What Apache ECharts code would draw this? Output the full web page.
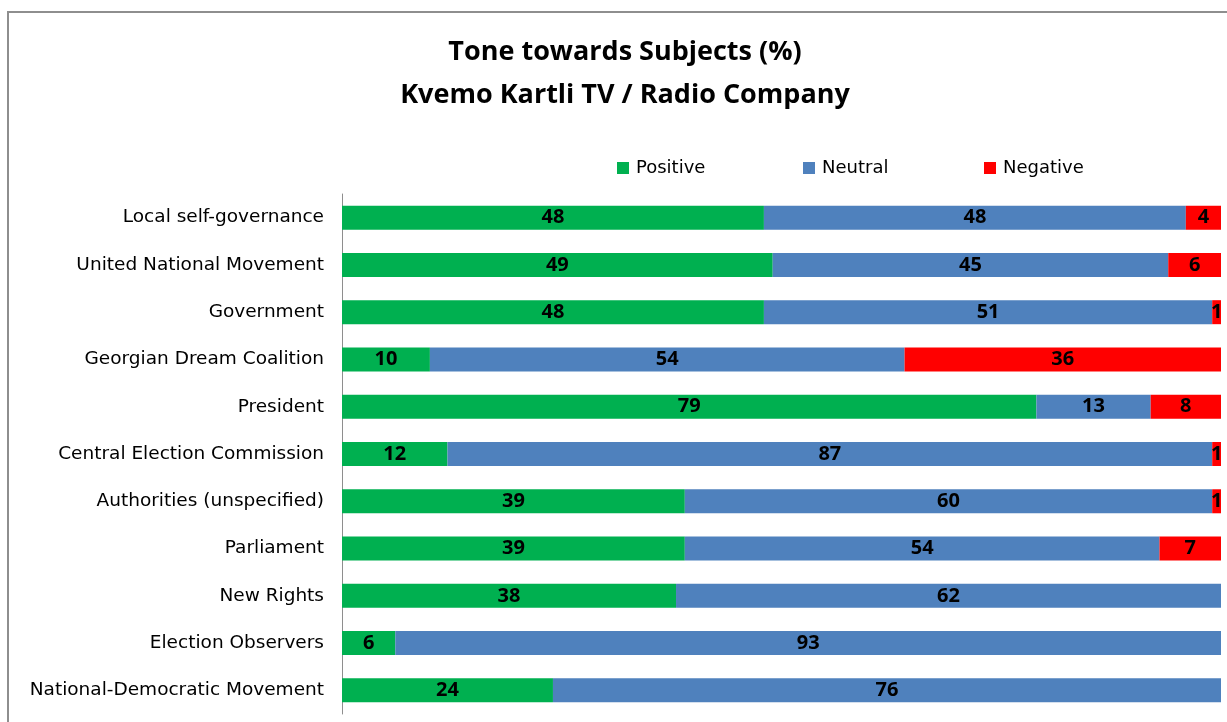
<!DOCTYPE html>
<html lang="en">
<head>
    <meta charset="UTF-8">
    <title>Tone towards Subjects</title>
    <script src="https://cdn.jsdelivr.net/npm/echarts@6/dist/echarts.min.js"></script>
    <style>
        html, body {
            margin: 0;
            padding: 0;
            background: #fff;
            overflow: hidden;
        }
        #frame {
            position: absolute;
            left: 7px;
            top: 11px;
            width: 1400px;
            height: 900px;
            border: 2px solid #8e8e8e;
        }
        #main {
            position: absolute;
            left: 0;
            top: 0;
            width: 1227px;
            height: 722px;
        }
    </style>
</head>
<body>
    <div id="frame"></div>
    <div id="main"></div>
    <script>
        var categories = [
            'Local self-governance',
            'United National Movement',
            'Government',
            'Georgian Dream Coalition',
            'President',
            'Central Election Commission',
            'Authorities (unspecified)',
            'Parliament',
            'New Rights',
            'Election Observers',
            'National-Democratic Movement'
        ];
        var positive = [48, 49, 48, 10, 79, 12, 39, 39, 38, 6, 24];
        var neutral = [48, 45, 51, 54, 13, 87, 60, 54, 62, 93, 76];
        var negative = [4, 6, 1, 36, 8, 1, 1, 7, 0, 0, 0];

        var seriesNames = ['Positive', 'Neutral', 'Negative'];
        var colors = ['#00B050', '#4F81BD', '#FF0000'];
        var raw = [positive, neutral, negative];

        // 100% stacked, like the original spreadsheet chart
        var totals = categories.map(function (c, i) {
            return positive[i] + neutral[i] + negative[i];
        });

        var font = 'Open Sans';
        var textFont = 'DejaVu Sans';

        var series = seriesNames.map(function (name, k) {
            return {
                name: name,
                type: 'bar',
                stack: 'tone',
                barWidth: 24,
                itemStyle: { color: colors[k] },
                label: {
                    show: true,
                    position: 'inside',
                    color: '#000',
                    fontFamily: font,
                    fontWeight: 'bold',
                    fontSize: 20,
                    formatter: function (p) {
                        var v = raw[k][p.dataIndex];
                        return v ? String(v) : '';
                    }
                },
                data: raw[k].map(function (v, i) {
                    return v / totals[i] * 100;
                })
            };
        });

        var legendLeft = [612, 798, 979];
        var legends = seriesNames.map(function (name, k) {
            return {
                data: [name],
                left: legendLeft[k],
                top: 154,
                itemWidth: 12,
                itemHeight: 12,
                itemGap: 0,
                icon: 'rect',
                textStyle: {
                    fontFamily: textFont,
                    fontSize: 18,
                    color: '#000',
                    padding: [2, 0, 0, 2]
                }
            };
        });

        var myChart = echarts.init(document.getElementById('main'));
        myChart.setOption({
            animation: false,
            title: {
                text: 'Tone towards Subjects (%)\nKvemo Kartli TV / Radio Company',
                left: 620,
                top: 26,
                textAlign: 'center',
                textStyle: {
                    fontFamily: font,
                    fontWeight: 'bold',
                    fontSize: 27,
                    lineHeight: 43,
                    color: '#000'
                }
            },
            legend: legends,
            grid: {
                left: 342,
                right: 6,
                top: 194,
                height: 520,
                containLabel: false
            },
            xAxis: {
                type: 'value',
                min: 0,
                max: 100,
                show: false
            },
            yAxis: {
                type: 'category',
                inverse: true,
                data: categories,
                axisLine: { show: true, lineStyle: { color: '#8e8e8e', width: 1 } },
                axisTick: { show: false },
                axisLabel: {
                    margin: 18,
                    fontFamily: textFont,
                    fontSize: 18.5,
                    color: '#000',
                    backgroundColor: 'rgba(255,255,255,0)',
                    padding: [6, 0, 0, 0]
                }
            },
            series: series
        });
    </script>
</body>
</html>
